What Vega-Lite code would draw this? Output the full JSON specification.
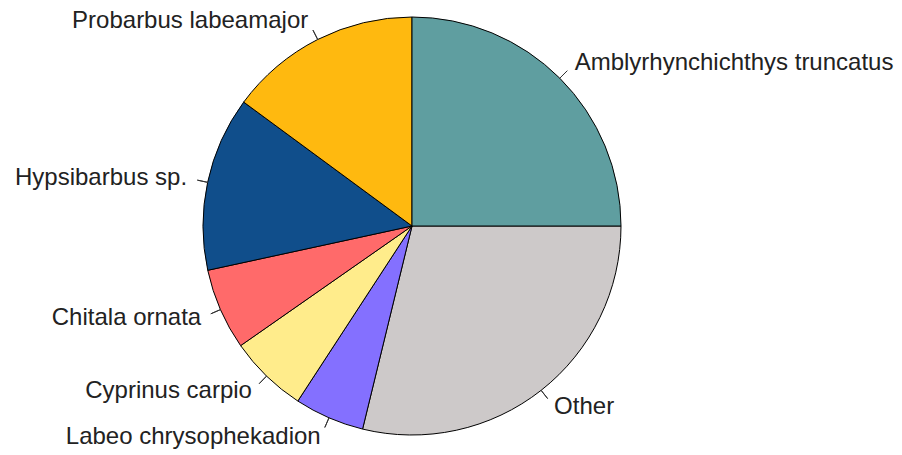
{
  "$schema": "https://vega.github.io/schema/vega-lite/v6.json",
  "autosize": "none",
  "width": 824,
  "height": 452,
  "padding": {"left": 0, "top": 0, "right": 78, "bottom": 3},
  "background": "white",
  "config": {"view": {"stroke": null}},
  "data": {"values": [
    {"species": "Other", "value": 28.8, "ord": 1},
    {"species": "Labeo chrysophekadion", "value": 5.4, "ord": 2},
    {"species": "Cyprinus carpio", "value": 6.1, "ord": 3},
    {"species": "Chitala ornata", "value": 6.3, "ord": 4},
    {"species": "Hypsibarbus sp.", "value": 13.5, "ord": 5},
    {"species": "Probarbus labeamajor", "value": 14.9, "ord": 6},
    {"species": "Amblyrhynchichthys truncatus", "value": 25.0, "ord": 7}
  ]},
  "transform": [
    {"window": [{"op": "sum", "field": "value", "as": "cum"}], "sort": [{"field": "ord"}], "frame": [null, 0]},
    {"joinaggregate": [{"op": "sum", "field": "value", "as": "total"}]},
    {"calculate": "(datum.cum - datum.value) / datum.total", "as": "f0"},
    {"calculate": "datum.cum / datum.total", "as": "f1"},
    {"calculate": "(datum.f0 + datum.f1) / 2", "as": "fm"},
    {"calculate": "sin(PI / 2 + 2 * PI * datum.fm) > 0 ? 'right' : 'left'", "as": "side"}
  ],
  "layer": [
    {
      "mark": {"type": "arc", "outerRadius": 209, "stroke": "black", "strokeWidth": 1},
      "encoding": {
        "theta": {"field": "f0", "type": "quantitative", "stack": null, "scale": {"type": "linear", "domain": [0, 1], "range": [1.5707963, 7.8539816]}},
        "theta2": {"field": "f1"},
        "color": {"field": "species", "type": "nominal", "legend": null,
          "scale": {"domain": ["Amblyrhynchichthys truncatus", "Probarbus labeamajor", "Hypsibarbus sp.", "Chitala ornata", "Cyprinus carpio", "Labeo chrysophekadion", "Other"],
                    "range": ["#5F9EA0", "#FFB90F", "#104E8B", "#FF6A6A", "#FFEC8B", "#8470FF", "#CDC9C9"]}}
      }
    },
    {
      "mark": {"type": "arc", "innerRadius": 209, "outerRadius": 219.5, "stroke": "#333333", "strokeWidth": 1, "fill": null},
      "encoding": {
        "theta": {"field": "fm", "type": "quantitative", "stack": null},
        "theta2": {"field": "fm"}
      }
    },
    {
      "transform": [{"filter": "datum.side == 'right'"}],
      "mark": {"type": "text", "radius": 230, "align": "left", "baseline": "middle", "font": "Liberation Sans", "fontSize": 24, "color": "#222222"},
      "encoding": {
        "theta": {"field": "fm", "type": "quantitative", "stack": null},
        "text": {"field": "species"}
      }
    },
    {
      "transform": [{"filter": "datum.side == 'left'"}],
      "mark": {"type": "text", "radius": 230, "align": "right", "baseline": "middle", "font": "Liberation Sans", "fontSize": 24, "color": "#222222"},
      "encoding": {
        "theta": {"field": "fm", "type": "quantitative", "stack": null},
        "text": {"field": "species"}
      }
    }
  ]
}
